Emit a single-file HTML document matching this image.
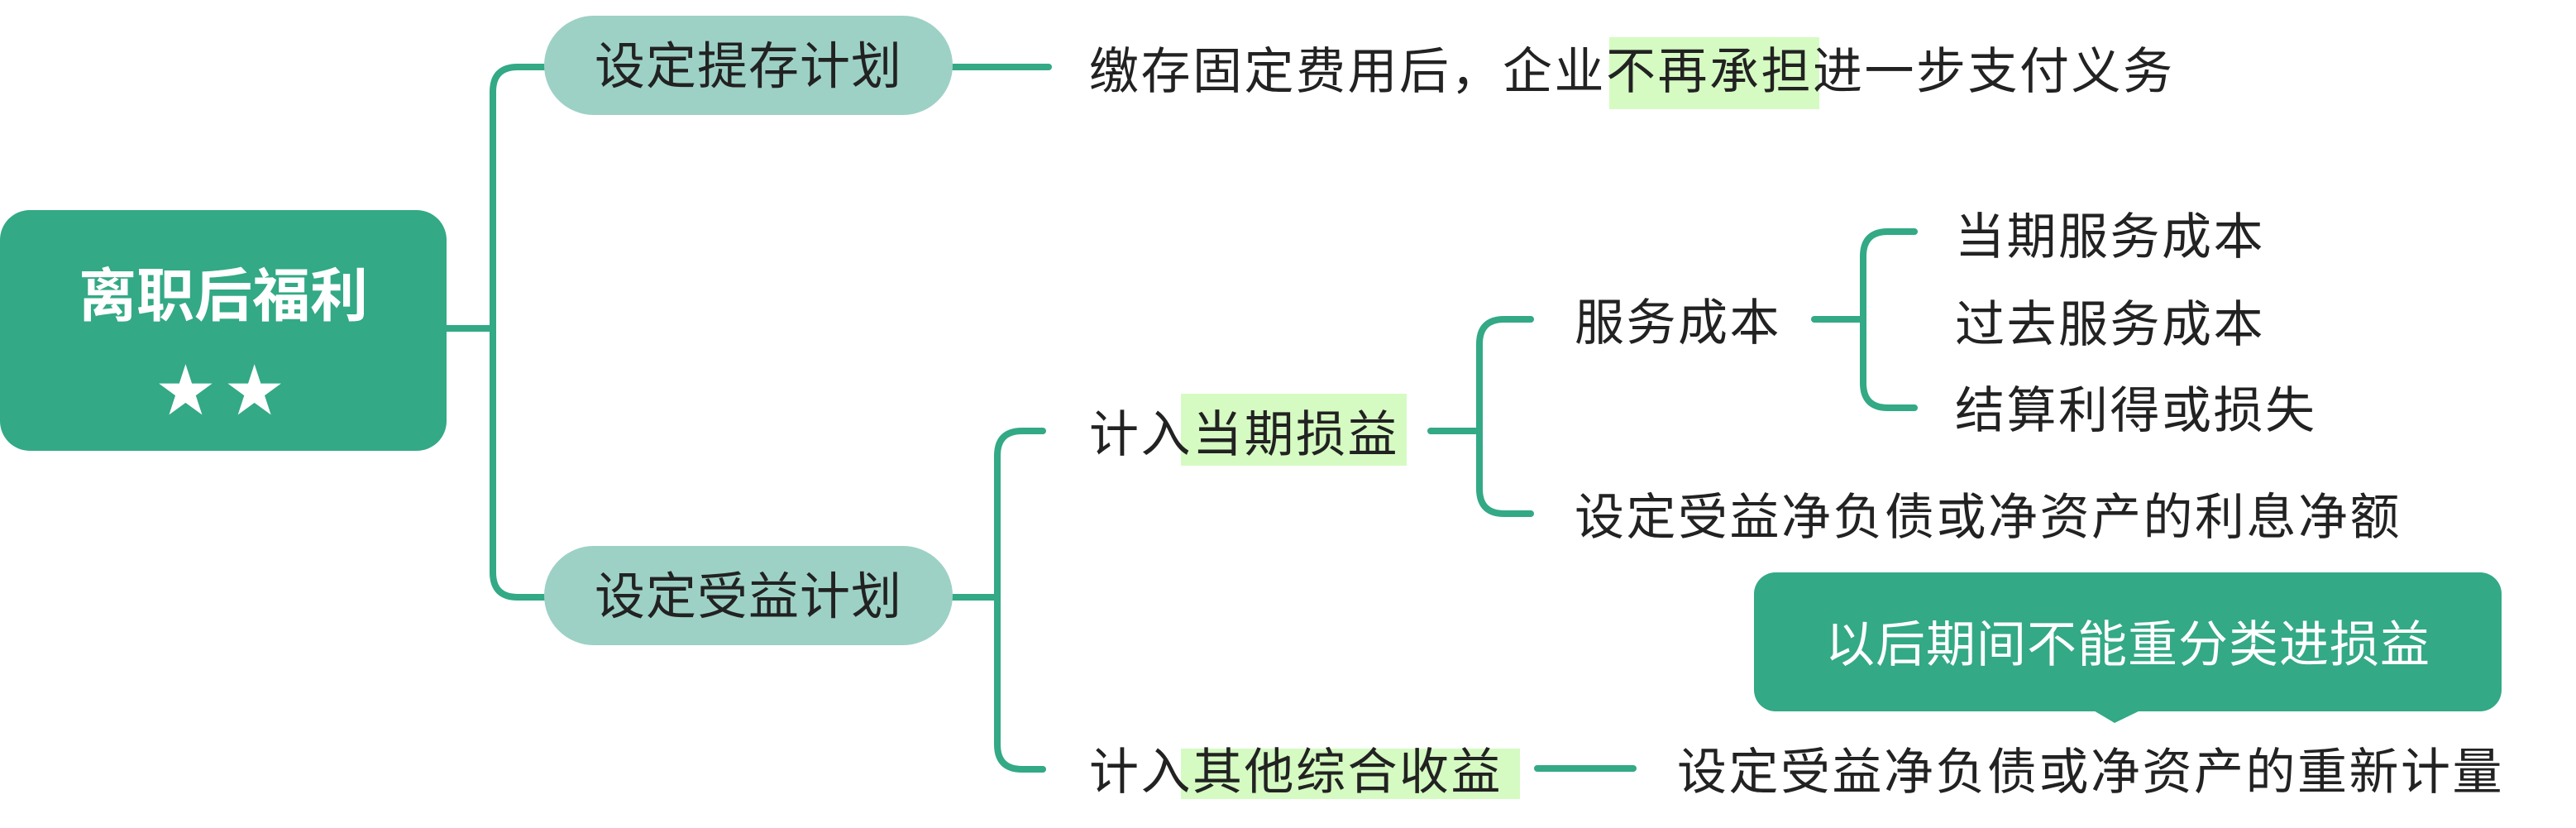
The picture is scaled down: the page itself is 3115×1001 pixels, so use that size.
<!DOCTYPE html>
<html><head><meta charset="utf-8"><style>
html,body{margin:0;padding:0;background:#fff;}
body{width:3115px;height:1001px;position:relative;overflow:hidden;font-family:"Liberation Sans","Noto Sans CJK SC",sans-serif;}
.t{position:absolute;white-space:nowrap;font-size:60px;line-height:60px;color:#222;letter-spacing:2.5px;}
.hl{background:#d5fbc2;}
.box{position:absolute;}
</style></head><body>
<svg width="3115" height="1001" style="position:absolute;left:0;top:0" fill="none" stroke="#33a985" stroke-width="8" stroke-linecap="round">
<path d="M540 397 H596"/>
<path d="M658 81 H626 Q596 81 596 111 V692 Q596 722 626 722 H658"/>
<path d="M1152 81 H1268"/>
<path d="M1152 722 H1206"/>
<path d="M1261 521 H1236 Q1206 521 1206 551 V900 Q1206 930 1236 930 H1261"/>
<path d="M1730 521 H1789"/>
<path d="M1851 386 H1819 Q1789 386 1789 416 V591 Q1789 621 1819 621 H1851"/>
<path d="M2194 386 H2253"/>
<path d="M2315 280 H2283 Q2253 280 2253 310 V463 Q2253 493 2283 493 H2315"/>
<path d="M1859 929 H1975"/>
</svg>
<div class="box" style="left:0;top:254px;width:540px;height:291px;background:#33a985;border-radius:36px;"></div>
<div class="t" style="left:0;width:540px;text-align:center;top:320px;font-size:70px;line-height:76px;color:#fff;font-weight:bold;letter-spacing:0">离职后福利</div>
<div class="t" style="left:0;width:540px;text-align:center;top:428px;font-size:84px;line-height:88px;color:#fff;letter-spacing:8px;font-family:'DejaVu Sans',sans-serif">★★</div>
<div class="box" style="left:658px;top:19px;width:494px;height:120px;background:#9dd1c5;border-radius:60px;"></div>
<div class="t" style="left:658px;width:494px;text-align:center;top:49px;font-size:61px;line-height:62px;letter-spacing:1px">设定提存计划</div>
<div class="box" style="left:658px;top:660px;width:494px;height:120px;background:#9dd1c5;border-radius:60px;"></div>
<div class="t" style="left:658px;width:494px;text-align:center;top:690px;font-size:61px;line-height:62px;letter-spacing:1px">设定受益计划</div>
<div class="box hl" style="left:1946px;top:45px;width:254px;height:87px"></div>
<div class="t" style="left:1317px;top:57px">缴存固定费用后，企业不再承担进一步支付义务</div>
<div class="box hl" style="left:1428px;top:476px;width:273px;height:87px"></div>
<div class="t" style="left:1317px;top:496px">计入当期损益</div>
<div class="t" style="left:1904px;top:361px">服务成本</div>
<div class="t" style="left:2364px;top:257px">当期服务成本</div>
<div class="t" style="left:2364px;top:363px">过去服务成本</div>
<div class="t" style="left:2364px;top:467px">结算利得或损失</div>
<div class="t" style="left:1904px;top:596px">设定受益净负债或净资产的利息净额</div>
<div class="box hl" style="left:1428px;top:905px;width:410px;height:61px"></div>
<div class="t" style="left:1317px;top:904px">计入其他综合收益</div>
<div class="t" style="left:2028px;top:904px">设定受益净负债或净资产的重新计量</div>
<svg width="3115" height="1001" style="position:absolute;left:0;top:0">
<rect x="2121" y="692" width="904" height="168" rx="26" fill="#33a985"/>
<path d="M2530 858 L2557 874 L2590 858 Z" fill="#33a985"/>
</svg>
<div class="t" style="left:2121px;width:904px;text-align:center;top:750px;color:#fff;letter-spacing:1px">以后期间不能重分类进损益</div>
</body></html>
